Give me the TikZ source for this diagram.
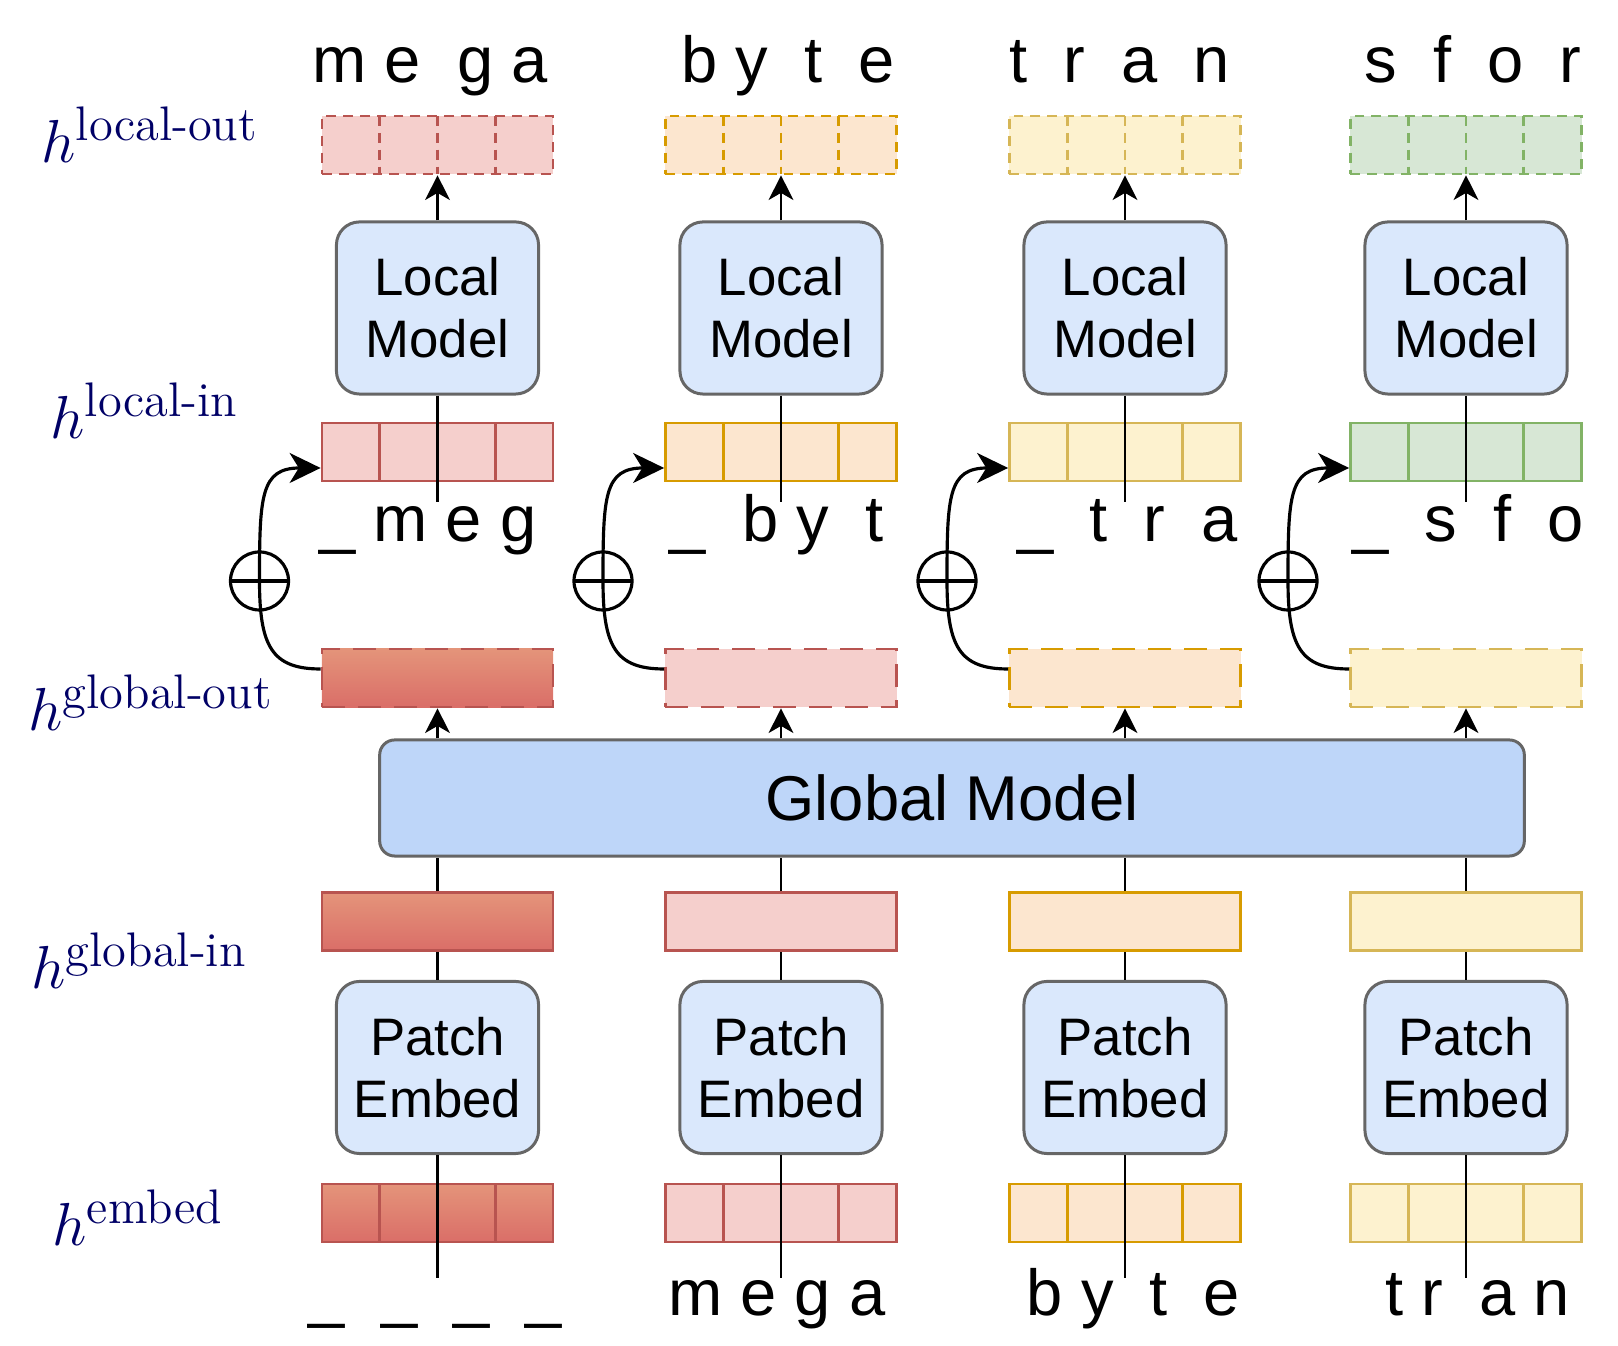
\documentclass[tikz,border=0pt]{standalone}
\usepackage{amsmath}
\usepackage{fontspec}
\newfontfamily\arialfont{Liberation Sans}
\usepackage{tikz}
\usetikzlibrary{positioning,calc,arrows.meta}
\definecolor{RedLine}{HTML}{B85450}
\definecolor{RedFill}{HTML}{F5CFCC}
\definecolor{OrgLine}{HTML}{D79B00}
\definecolor{OrgFill}{HTML}{FCE6CF}
\definecolor{YelLine}{HTML}{D6B656}
\definecolor{YelFill}{HTML}{FDF2CF}
\definecolor{GrnLine}{HTML}{82B366}
\definecolor{GrnFill}{HTML}{D7E7D5}
\definecolor{GradTop}{HTML}{E4947A}
\definecolor{GradBot}{HTML}{DA6E68}
\definecolor{BoxFill}{HTML}{DAE8FC}
\definecolor{BoxLine}{HTML}{666666}
\definecolor{GlobFill}{HTML}{BED6F9}
\definecolor{Navy}{HTML}{000066}
\newcommand\hsup[1]{$h^{\text{\fontsize{13.8}{15}\selectfont #1}}$}

\begin{document}
\begin{tikzpicture}[x=0.01cm,y=0.01cm,
  vecrow/.style={line width=0.75pt,minimum width=2.31cm,minimum height=0.58cm,inner sep=0pt},
  cells/.style={path picture={\foreach \d in {-0.5775,0,0.5775}
    \draw[line width=0.75pt,#1] ([xshift=\d cm]path picture bounding box.north) -- ([xshift=\d cm]path picture bounding box.south);}},
  redc/.style={draw=RedLine,fill=RedFill},
  orgc/.style={draw=OrgLine,fill=OrgFill},
  yelc/.style={draw=YelLine,fill=YelFill},
  grnc/.style={draw=GrnLine,fill=GrnFill},
  gradc/.style={draw=RedLine,top color=GradTop,bottom color=GradBot},
  sdash/.style={dash pattern=on 2.8pt off 2pt},
  ldash/.style={dash pattern=on 6.5pt off 3.7pt},
  modbox/.style={draw=BoxLine,fill=BoxFill,line width=0.85pt,rounded corners=0.23cm,
    minimum width=2.02cm,minimum height=1.72cm,align=center,
    font=\arialfont\fontsize{15}{17.6}\selectfont},
  gbox/.style={draw=BoxLine,fill=GlobFill,line width=0.85pt,rounded corners=0.15cm,
    minimum width=11.44cm,minimum height=1.16cm,font=\arialfont\fontsize{18}{20}\selectfont},
  oplus/.style={circle,draw,line width=0.9pt,minimum size=0.58cm,inner sep=0pt,
    path picture={\draw[line width=0.9pt] (path picture bounding box.west) -- (path picture bounding box.east);}},
  tok/.style={anchor=base,inner sep=0pt,font=\arialfont\fontsize{18.5}{20}\selectfont},
  hlab/.style={anchor=base west,inner sep=0pt,text=Navy,font=\fontsize{18}{20}\selectfont},
  wire/.style={line width=0.8pt},
  arr/.style={line width=0.8pt,-{Stealth[length=7pt,width=7pt,inset=2pt]}},
  skiparr/.style={line width=0.9pt,-{Stealth[length=8.8pt,width=8.5pt,inset=2.6pt]}}]
\useasboundingbox (0,0) rectangle (1618,1346);

% level labels
\node[hlab] (hlo) at (41,1183) {\hsup{local-out}};
\node[hlab] (hli) at (50,907) {\hsup{local-in}};
\node[hlab] (hgo) at (28,615) {\hsup{global-out}};
\node[hlab] (hgi) at (31,357) {\hsup{global-in}};
\node[hlab] (hem) at (52,100) {\hsup{embed}};

\node[gbox] (GM) at (952,548) {Global Model};

% patch 1
\begin{scope}[shift={(437.5,0)}]
\node[vecrow,redc,sdash,cells={RedLine,sdash}] (lo) at (0,1201) {};
\node[modbox] (lm) at (0,1038) {Local\\Model};
\node[vecrow,redc,cells=RedLine] (li) at (0,894) {};
\coordinate (liend) at (0,844);
\node[oplus] (op) at (-178,765) {};
\node[vecrow,gradc,ldash] (go) at (0,668) {};
\node[vecrow,gradc] (gi) at (0,424.5) {};
\node[modbox] (pe) at (0,278.5) {Patch\\Embed};
\node[vecrow,gradc,cells=RedLine] (em) at (0,133) {};
\coordinate (emend) at (0,68);
\draw[arr] (lm) -- (lo);
\draw[wire] (lm) -- (liend);
\draw[skiparr] ($(go.west)+(0,9)$) .. controls +(-49,0) and +(0,-65) .. (op.center)
  .. controls +(0,85) and +(-60,0) .. ($(li.west)+(0,-16)$);
\draw[arr] (go.south |- GM.north) -- (go);
\draw[wire] (gi) -- (gi.north |- GM.south);
\draw[wire] (pe) -- (gi);
\draw[wire] (pe) -- (emend);
\node[tok] (top) at (-7.5,1263) {m e\ \ g a};
\node[tok] (mid) at (-9.5,804) {\_ m e g};
\node[tok] (bot) at (-2,30) {\_\ \ \_\ \ \_\ \ \_};
\end{scope}

% patch 2
\begin{scope}[shift={(781,0)}]
\node[vecrow,orgc,sdash,cells={OrgLine,sdash}] (lo) at (0,1201) {};
\node[modbox] (lm) at (0,1038) {Local\\Model};
\node[vecrow,orgc,cells=OrgLine] (li) at (0,894) {};
\coordinate (liend) at (0,844);
\node[oplus] (op) at (-178,765) {};
\node[vecrow,redc,ldash] (go) at (0,668) {};
\node[vecrow,redc] (gi) at (0,424.5) {};
\node[modbox] (pe) at (0,278.5) {Patch\\Embed};
\node[vecrow,redc,cells=RedLine] (em) at (0,133) {};
\coordinate (emend) at (0,68);
\draw[arr] (lm) -- (lo);
\draw[wire] (lm) -- (liend);
\draw[skiparr] ($(go.west)+(0,9)$) .. controls +(-49,0) and +(0,-65) .. (op.center)
  .. controls +(0,85) and +(-60,0) .. ($(li.west)+(0,-16)$);
\draw[arr] (go.south |- GM.north) -- (go);
\draw[wire] (gi) -- (gi.north |- GM.south);
\draw[wire] (pe) -- (gi);
\draw[wire] (pe) -- (emend);
\node[tok] (top) at (7,1263) {b y\ \ t\ \ e};
\node[tok] (mid) at (-4.5,804) {\_\ \ b y\ \ t};
\node[tok] (bot) at (-4,30) {m e g a};
\end{scope}

% patch 3
\begin{scope}[shift={(1125,0)}]
\node[vecrow,yelc,sdash,cells={YelLine,sdash}] (lo) at (0,1201) {};
\node[modbox] (lm) at (0,1038) {Local\\Model};
\node[vecrow,yelc,cells=YelLine] (li) at (0,894) {};
\coordinate (liend) at (0,844);
\node[oplus] (op) at (-178,765) {};
\node[vecrow,orgc,ldash] (go) at (0,668) {};
\node[vecrow,orgc] (gi) at (0,424.5) {};
\node[modbox] (pe) at (0,278.5) {Patch\\Embed};
\node[vecrow,orgc,cells=OrgLine] (em) at (0,133) {};
\coordinate (emend) at (0,68);
\draw[arr] (lm) -- (lo);
\draw[wire] (lm) -- (liend);
\draw[skiparr] ($(go.west)+(0,9)$) .. controls +(-49,0) and +(0,-65) .. (op.center)
  .. controls +(0,85) and +(-60,0) .. ($(li.west)+(0,-16)$);
\draw[arr] (go.south |- GM.north) -- (go);
\draw[wire] (gi) -- (gi.north |- GM.south);
\draw[wire] (pe) -- (gi);
\draw[wire] (pe) -- (emend);
\node[tok] (top) at (-5.5,1263) {t\ \ r\ \ a\ \ n};
\node[tok] (mid) at (2.5,804) {\_\ \ t\ \ r\ \ a};
\node[tok] (bot) at (8.5,30) {b y\ \ t\ \ e};
\end{scope}

% patch 4
\begin{scope}[shift={(1466,0)}]
\node[vecrow,grnc,sdash,cells={GrnLine,sdash}] (lo) at (0,1201) {};
\node[modbox] (lm) at (0,1038) {Local\\Model};
\node[vecrow,grnc,cells=GrnLine] (li) at (0,894) {};
\coordinate (liend) at (0,844);
\node[oplus] (op) at (-178,765) {};
\node[vecrow,yelc,ldash] (go) at (0,668) {};
\node[vecrow,yelc] (gi) at (0,424.5) {};
\node[modbox] (pe) at (0,278.5) {Patch\\Embed};
\node[vecrow,yelc,cells=YelLine] (em) at (0,133) {};
\coordinate (emend) at (0,68);
\draw[arr] (lm) -- (lo);
\draw[wire] (lm) -- (liend);
\draw[skiparr] ($(go.west)+(0,9)$) .. controls +(-49,0) and +(0,-65) .. (op.center)
  .. controls +(0,85) and +(-60,0) .. ($(li.west)+(0,-16)$);
\draw[arr] (go.south |- GM.north) -- (go);
\draw[wire] (gi) -- (gi.north |- GM.south);
\draw[wire] (pe) -- (gi);
\draw[wire] (pe) -- (emend);
\node[tok] (top) at (7,1263) {s\ \ f\ \ o\ \ r};
\node[tok] (mid) at (2,804) {\_\ \ s\ \ f\ \ o};
\node[tok] (bot) at (11.5,30) {t r\ \ a n};
\end{scope}
\end{tikzpicture}
\end{document}
